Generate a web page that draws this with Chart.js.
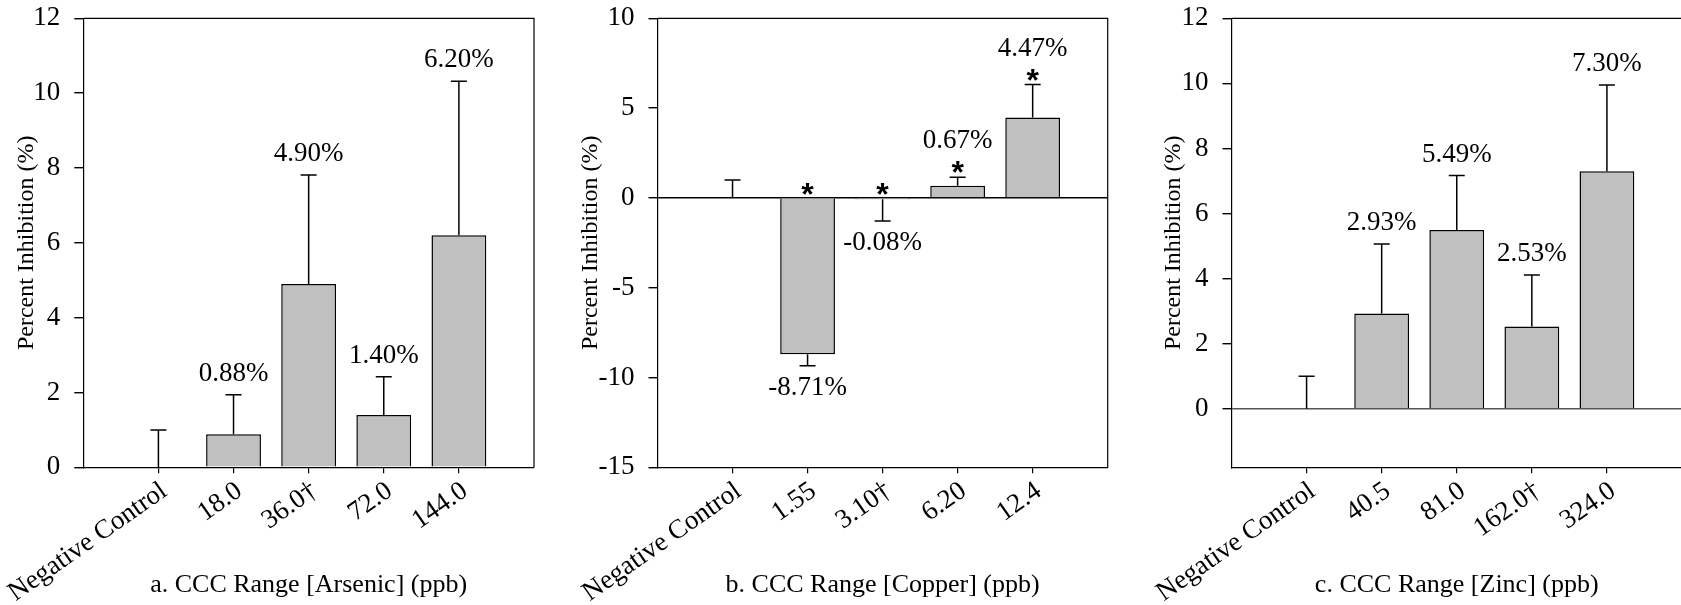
<!DOCTYPE html>
<html>
<head>
<meta charset="utf-8">
<script src="https://cdn.jsdelivr.net/npm/chart.js@4/dist/chart.umd.min.js"></script>
<style>
  html, body { margin: 0; padding: 0; background: #fff; overflow: hidden; }
  #wrap { position: relative; width: 1681px; height: 605px; overflow: hidden; }
  .panel { position: absolute; top: 0; height: 605px; }
</style>
</head>
<body>
<div id="wrap">
  <div class="panel" style="left:0;width:560px"><canvas id="arsenic"></canvas></div>
  <div class="panel" style="left:560px;width:560px"><canvas id="copper"></canvas></div>
  <div class="panel" style="left:1120px;width:580px"><canvas id="zinc"></canvas></div>
</div>
<script>
// a. arsenic
const arsenicLabels = ['Negative Control', '18.0', '36.0†', '72.0', '144.0'];
const arsenicValues = [0, 0.88, 4.90, 1.40, 6.20];
const arsenicErrors = [1.0, 1.06, 2.91, 1.02, 4.12];
const arsenicTicks = [0, 2, 4, 6, 8, 10, 12];

// b. copper
const copperLabels = ['Negative Control', '1.55', '3.10†', '6.20', '12.4'];
const copperValues = [0, -8.71, -0.08, 0.67, 4.47];
const copperErrors = [1.0, 0.63, 1.20, 0.48, 1.84];
const copperSignificant = [false, true, true, true, true];
const copperTicks = [-15, -10, -5, 0, 5, 10];

// c. zinc
const zincLabels = ['Negative Control', '40.5', '81.0', '162.0†', '324.0'];
const zincValues = [0, 2.93, 5.49, 2.53, 7.30];
const zincErrors = [1.0, 2.13, 1.68, 1.58, 2.65];
const zincTicks = [0, 2, 4, 6, 8, 10, 12];

const serif = '"Liberation Serif", "Times New Roman", serif';

function makePanel(id, p) {
  // empty slot on each side of the five categories
  const labels = [''].concat(p.labels, ['']);
  const values = [null].concat(p.values, [null]);
  const sig = p.significant || [];

  const extras = {
    id: 'extras',
    afterDatasetsDraw(chart) {
      const { ctx, chartArea } = chart;
      const xs = chart.scales.x;
      const ys = chart.scales.y;
      ctx.save();
      ctx.strokeStyle = '#000';
      ctx.lineWidth = 1.2;
      ctx.beginPath();
      ctx.moveTo(chartArea.left, chartArea.top);
      ctx.lineTo(chartArea.right, chartArea.top);
      if (p.rightFrame) ctx.lineTo(chartArea.right, chartArea.bottom);
      ctx.stroke();

      const zeroY = ys.getPixelForValue(0);
      p.values.forEach((v, i) => {
        const x = xs.getPixelForValue(i + 1);
        const up = v >= 0;
        const end = up ? v + p.errors[i] : v - p.errors[i];
        const y0 = ys.getPixelForValue(v);
        const y1 = ys.getPixelForValue(end);
        ctx.strokeStyle = '#000';
        ctx.lineWidth = 1.5;
        ctx.beginPath();
        ctx.moveTo(x, y0);
        ctx.lineTo(x, y1);
        ctx.moveTo(x - 8, y1);
        ctx.lineTo(x + 8, y1);
        ctx.stroke();
        if (i === 0) return;

        const txt = v.toFixed(2) + '%';
        ctx.fillStyle = '#000';
        ctx.textAlign = 'center';
        ctx.textBaseline = 'middle';
        ctx.font = '27px ' + serif;
        let starY = null;
        if (up) {
          if (sig[i]) {
            starY = y1 - 13;
            ctx.fillText(txt, x, y1 - 36);
          } else {
            ctx.fillText(txt, x, y1 - 21);
          }
        } else {
          ctx.fillText(txt, x, y1 + 22);
          if (sig[i]) starY = zeroY - 12;
        }
        if (starY !== null) {
          ctx.font = 'bold 32px "Liberation Sans", Arial, sans-serif';
          ctx.textBaseline = 'alphabetic';
          ctx.fillText('*', x, starY + 19);
        }
      });
      ctx.restore();
    }
  };

  return new Chart(document.getElementById(id), {
    type: 'bar',
    data: {
      labels: labels,
      datasets: [{
        data: values,
        backgroundColor: '#c0c0c0',
        borderColor: '#000',
        borderWidth: 1.5,
        barPercentage: 0.73,
        categoryPercentage: 1
      }]
    },
    options: {
      responsive: true,
      maintainAspectRatio: false,
      animation: false,
      layout: { padding: { top: 18.3, right: p.padRight, left: 0, bottom: 0 } },
      plugins: { legend: { display: false }, tooltip: { enabled: false } },
      scales: {
        x: {
          offset: false,
          grid: {
            offset: false,
            drawOnChartArea: false,
            tickLength: 6,
            lineWidth: 1.2,
            tickColor: (c) => (c.index === 0 || c.index === labels.length - 1) ? 'rgba(0,0,0,0)' : '#000'
          },
          border: { color: '#000', width: 1.2 },
          ticks: {
            color: '#000',
            font: { family: serif, size: 27 },
            minRotation: 35,
            maxRotation: 35,
            autoSkip: false,
            padding: 2,
            labelOffset: 6
          },
          title: {
            display: true,
            text: p.title,
            color: '#000',
            font: { family: serif, size: 26 },
            padding: { top: 0, bottom: 4 }
          },
          afterFit: (s) => { s.height = 605 - 467.3; s.paddingLeft = 0; s.paddingRight = 0; }
        },
        y: {
          min: p.min,
          max: p.max,
          afterBuildTicks: (s) => { s.ticks = p.ticks.map((v) => ({ value: v })); },
          grid: {
            drawOnChartArea: true,
            lineWidth: 1.4,
            color: (c) => (c.tick && c.tick.value === 0 && p.zeroLine) ? p.zeroLine : 'rgba(0,0,0,0)',
            tickColor: '#000',
            tickLength: 9
          },
          border: { color: '#000', width: 1.2 },
          ticks: { color: '#000', font: { family: serif, size: 27 }, padding: 14 },
          title: {
            display: true,
            text: 'Percent Inhibition (%)',
            color: '#000',
            font: { family: serif, size: 24 },
            padding: { top: p.titlePad, bottom: 0 }
          },
          afterFit: (s) => { s.width = p.left; s.paddingTop = 0; s.paddingBottom = 0; }
        }
      }
    },
    plugins: [extras]
  });
}

makePanel('arsenic', {
  labels: arsenicLabels, values: arsenicValues, errors: arsenicErrors, ticks: arsenicTicks,
  min: 0, max: 12, left: 83.3, padRight: 26, titlePad: 12.6, zeroLine: null, rightFrame: true,
  title: 'a. CCC Range [Arsenic] (ppb)'
});

makePanel('copper', {
  labels: copperLabels, values: copperValues, errors: copperErrors, ticks: copperTicks,
  significant: copperSignificant,
  min: -15, max: 10, left: 97.5, padRight: 12.3, titlePad: 16.6, zeroLine: '#000', rightFrame: true,
  title: 'b. CCC Range [Copper] (ppb)'
});

// the right side of this panel lies past the page edge
makePanel('zinc', {
  labels: zincLabels, values: zincValues, errors: zincErrors, ticks: zincTicks,
  min: -1.8, max: 12, left: 111.5, padRight: 18, titlePad: 39.6, zeroLine: '#555', rightFrame: false,
  title: 'c. CCC Range [Zinc] (ppb)'
});
</script>
</body>
</html>
